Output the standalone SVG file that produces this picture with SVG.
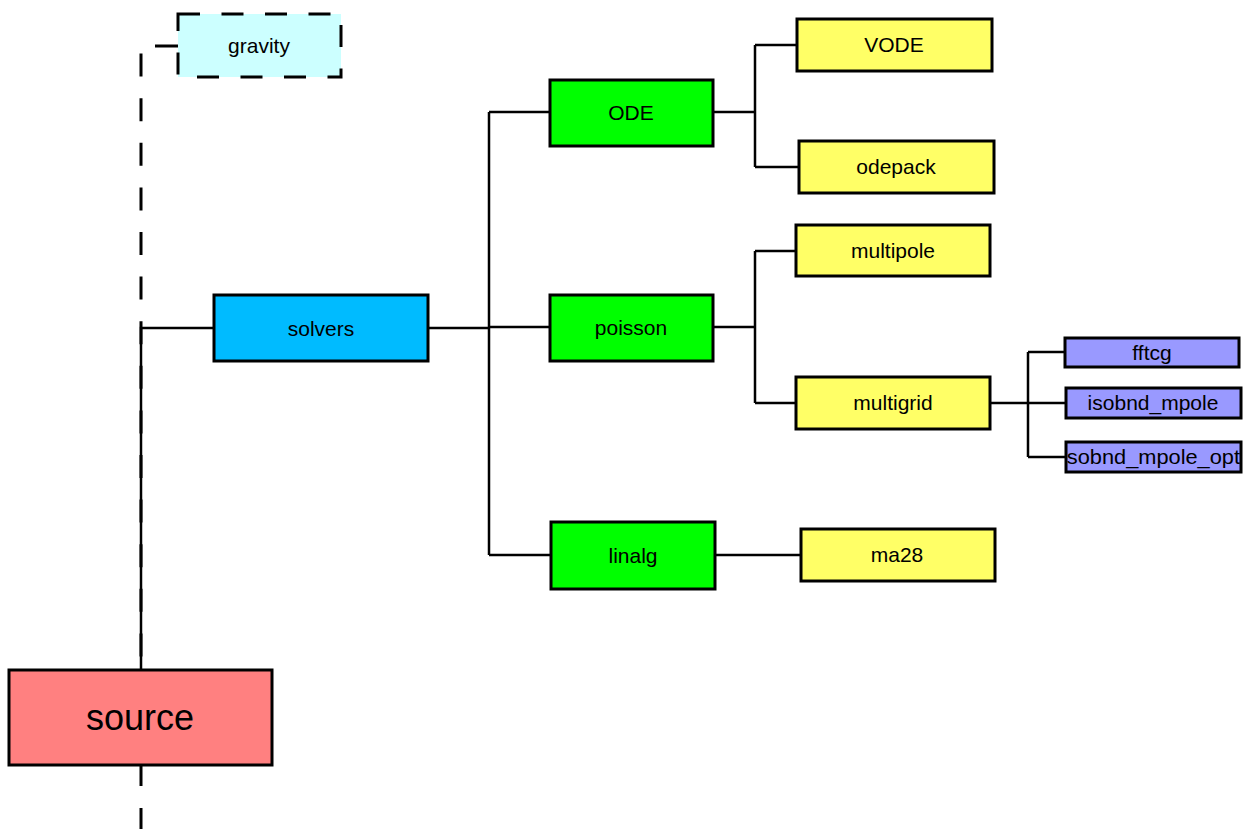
<svg xmlns="http://www.w3.org/2000/svg" width="1246" height="829" viewBox="0 0 1246 829">
<style>
.n{stroke:#000;stroke-width:3}
.t{font-family:"Liberation Sans",Arial,sans-serif;font-size:21px;text-anchor:middle;fill:#000}
.c{fill:none;stroke:#000;stroke-width:2.5}
.d{fill:none;stroke:#000;stroke-width:3;stroke-dasharray:23 21.6}
.y{fill:#ffff66}.g{fill:#00ff00}.b{fill:#9999ff}
</style>
<defs>
<clipPath id="clipOpt"><rect x="1067" y="443" width="173" height="28"/></clipPath>
</defs>
<rect width="1246" height="829" fill="#fff"/>
<g id="connectors">
<path class="d" d="M178,46 H141 V670"/>
<path class="d" d="M141,765 V829" style="stroke-dasharray:21 22"/>
<path class="c" d="M141,670 V328 H214"/>
<path class="c" d="M428,328 H489 M489,112 V555 M489,112 H550 M489,327 H550 M489,555 H551"/>
<path class="c" d="M713,112 H755 M755,45 V167 M755,45 H797 M755,167 H799"/>
<path class="c" d="M713,327 H755 M755,251 V403 M755,251 H796 M755,403 H796"/>
<path class="c" d="M715,555 H801"/>
<path class="c" d="M990,403 H1028 M1028,352 V457 M1028,352 H1065 M1028,403 H1066 M1028,457 H1066"/>
</g>
<g id="gravity">
<rect x="178" y="14" width="163" height="63" fill="#ccffff" stroke="#000" stroke-width="3" stroke-dasharray="22 21.5"/>
<text class="t" x="259" y="53">gravity</text>
</g>
<g id="source">
<rect class="n" x="9" y="670" width="263" height="95" fill="#ff8080"/>
<text class="t" x="140" y="730" style="font-size:36px">source</text>
</g>
<g id="solvers">
<rect class="n" x="214" y="295" width="214" height="66" fill="#00bbff"/>
<text class="t" x="321" y="336">solvers</text>
</g>
<g id="ODE">
<rect class="n g" x="550" y="80" width="163" height="66"/>
<text class="t" x="631" y="120">ODE</text>
</g>
<g id="poisson">
<rect class="n g" x="550" y="295" width="163" height="66"/>
<text class="t" x="631" y="335">poisson</text>
</g>
<g id="linalg">
<rect class="n g" x="551" y="522" width="164" height="67"/>
<text class="t" x="633" y="563">linalg</text>
</g>
<g id="VODE">
<rect class="n y" x="797" y="19" width="195" height="52"/>
<text class="t" x="894" y="52">VODE</text>
</g>
<g id="odepack">
<rect class="n y" x="799" y="141" width="195" height="52"/>
<text class="t" x="896" y="174">odepack</text>
</g>
<g id="multipole">
<rect class="n y" x="796" y="225" width="194" height="51"/>
<text class="t" x="893" y="258">multipole</text>
</g>
<g id="multigrid">
<rect class="n y" x="796" y="377" width="194" height="52"/>
<text class="t" x="893" y="410">multigrid</text>
</g>
<g id="ma28">
<rect class="n y" x="801" y="529" width="194" height="52"/>
<text class="t" x="897" y="562">ma28</text>
</g>
<g id="fftcg">
<rect class="n b" x="1065" y="338" width="174" height="29"/>
<text class="t" x="1152" y="360">fftcg</text>
</g>
<g id="isobnd_mpole">
<rect class="n b" x="1066" y="388" width="175" height="30"/>
<text class="t" x="1153" y="410">isobnd_mpole</text>
</g>
<g id="isobnd_mpole_opt">
<rect class="n b" x="1066" y="442" width="175" height="30"/>
<text class="t" x="1151" y="464" clip-path="url(#clipOpt)" textLength="178" lengthAdjust="spacingAndGlyphs">isobnd_mpole_opt</text>
</g>
</svg>
